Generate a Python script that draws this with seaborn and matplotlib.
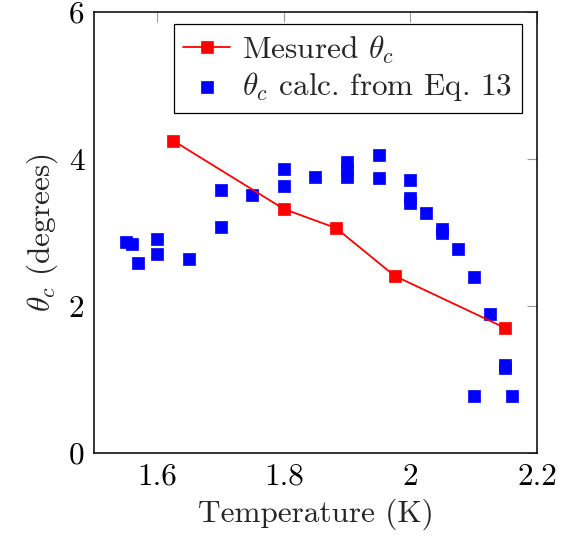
import matplotlib
matplotlib.use("Agg")
import matplotlib.pyplot as plt
import seaborn as sns
import pandas as pd

# Measured critical angle
meas_T = [1.625, 1.80, 1.8825, 1.975, 2.15]
meas_theta = [4.25, 3.32, 3.06, 2.41, 1.70]

# Calculated from Eq. 13
calc_T = [1.55, 1.56, 1.57, 1.60, 1.60, 1.65, 1.70, 1.70, 1.75, 1.80, 1.80,
          1.85, 1.90, 1.90, 1.90, 1.95, 1.95, 2.00, 2.00, 2.00, 2.025, 2.05, 2.05,
          2.075, 2.10, 2.125, 2.15, 2.15, 2.10, 2.16]
calc_theta = [2.87, 2.84, 2.58, 2.91, 2.71, 2.64, 3.58, 3.08, 3.51, 3.87, 3.63,
              3.75, 3.96, 3.85, 3.75, 4.05, 3.74, 3.71, 3.47, 3.40, 3.27, 3.05, 3.00,
              2.78, 2.40, 1.89, 1.20, 1.15, 0.77, 0.78]

x_ticks = [1.6, 1.8, 2.0, 2.2]
x_ticklabels = ["1.6", "1.8", "2", "2.2"]
y_ticks = [0, 2, 4, 6]
y_ticklabels = ["0", "2", "4", "6"]

labels = [r"Mesured $\theta_c$", r"$\theta_c$ calc. from Eq. 13"]

sns.set_theme(style="white")
plt.rcParams.update({
    "font.family": ["cmr10", "DejaVu Serif"],
    "mathtext.fontset": "cm",
    "axes.formatter.use_mathtext": True,
    "axes.unicode_minus": False,
})

FS = 22.5

fig = plt.figure(figsize=(5.63, 5.40), dpi=100)
ax = fig.add_axes([94 / 563, 87 / 540, 443 / 563, 441 / 540])

df_meas = pd.DataFrame({"T": meas_T, "theta": meas_theta})
df_calc = pd.DataFrame({"T": calc_T, "theta": calc_theta})

sns.lineplot(data=df_meas, x="T", y="theta", ax=ax, color="#ff0000", lw=1.3,
             marker="s", markersize=9.3, markeredgecolor="#ff0000",
             markeredgewidth=0.5, label=labels[0], zorder=3, sort=False)
sns.scatterplot(data=df_calc, x="T", y="theta", ax=ax, color="#0000ff",
                marker="s", s=84, edgecolor="#0000ff", linewidth=0.5,
                label=labels[1], zorder=2)

ax.set_xlim(1.5, 2.2)
ax.set_ylim(0, 6)
ax.set_xticks(x_ticks)
ax.set_xticklabels(x_ticklabels)
ax.set_yticks(y_ticks)
ax.set_yticklabels(y_ticklabels)
ax.tick_params(direction="in", length=7, width=0.8, color="#999999",
               top=True, right=True, labelsize=FS, pad=7, labelcolor="black")
for sp in ax.spines.values():
    sp.set_color("black")
    sp.set_linewidth(1.1)
    sp.set_visible(True)

ax.set_xlabel("Temperature (K)", fontsize=FS, labelpad=6)
ax.set_ylabel(r"$\theta_c$ (degrees)", fontsize=FS, labelpad=6)

leg = ax.legend(loc="upper right", bbox_to_anchor=(0.966, 0.973),
                borderaxespad=0, fontsize=FS, frameon=True, fancybox=False,
                edgecolor="black", framealpha=1, handlelength=1.5,
                handletextpad=0.4, borderpad=0.3, labelspacing=0.15)
leg.get_frame().set_linewidth(0.9)

fig.savefig("out.png", dpi=100)
